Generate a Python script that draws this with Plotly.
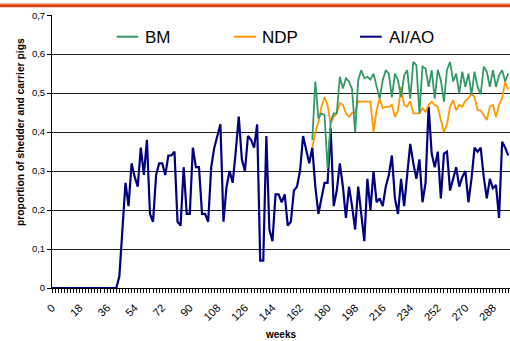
import plotly.graph_objects as go

# ---------------- data ----------------
weeks_ai = list(range(0, 300, 2))
ai_ao = [0, 0, 0, 0, 0, 0, 0, 0, 0, 0, 0, 0, 0, 0, 0, 0, 0, 0, 0, 0, 0, 0,
         0.03, 0.16, 0.27, 0.21, 0.32, 0.285, 0.26, 0.36, 0.29, 0.38,
         0.19, 0.17, 0.29, 0.32, 0.32, 0.29, 0.34, 0.34, 0.35, 0.17,
         0.16, 0.31, 0.19, 0.19, 0.36, 0.31, 0.31, 0.19, 0.19, 0.17,
         0.31, 0.36, 0.39, 0.42, 0.17, 0.26, 0.30, 0.27, 0.35, 0.44,
         0.33, 0.30, 0.39, 0.38, 0.36, 0.42, 0.07, 0.07, 0.39, 0.15,
         0.12, 0.24, 0.24, 0.22, 0.24, 0.16, 0.17, 0.25, 0.26, 0.30,
         0.39, 0.35, 0.32, 0.36, 0.26, 0.19, 0.23, 0.27, 0.27, 0.41,
         0.21, 0.25, 0.32, 0.26, 0.18, 0.26, 0.21, 0.15, 0.26, 0.19,
         0.12, 0.28, 0.20, 0.30, 0.22, 0.23, 0.21, 0.26, 0.29, 0.34,
         0.23, 0.19, 0.28, 0.21, 0.29, 0.37, 0.32, 0.28, 0.33, 0.22,
         0.27, 0.465, 0.345, 0.31, 0.35, 0.23, 0.345, 0.35, 0.25, 0.28,
         0.31, 0.26, 0.285, 0.30, 0.22, 0.28, 0.36, 0.35, 0.36, 0.285,
         0.23, 0.28, 0.256, 0.264, 0.18, 0.375, 0.36, 0.34]

weeks_bm_ndp = list(range(170, 300, 2))
bm = [0.38,
      0.53, 0.435, 0.448, 0.444, 0.307, 0.426, 0.448, 0.448, 0.542, 0.512,
      0.538, 0.53, 0.51, 0.40, 0.533, 0.559, 0.538,
      0.542, 0.535, 0.55, 0.516, 0.486, 0.533, 0.559, 0.55, 0.49, 0.55,
      0.533, 0.49, 0.545, 0.559, 0.486, 0.58, 0.572, 0.448, 0.568, 0.563,
      0.516, 0.559, 0.486, 0.56, 0.533,
      0.478, 0.56, 0.58, 0.53, 0.55, 0.499, 0.555, 0.516, 0.55, 0.495,
      0.555, 0.516, 0.497, 0.568, 0.555, 0.516, 0.559, 0.516, 0.546, 0.559,
      0.53, 0.55]
ndp = [0.36, 0.40, 0.426, 0.465, 0.49, 0.469, 0.422, 0.439, 0.448, 0.474,
       0.47, 0.448, 0.439, 0.45, 0.45, 0.479,
       0.478, 0.478, 0.478, 0.478, 0.40, 0.456, 0.486, 0.461, 0.465, 0.465,
       0.47, 0.439, 0.456, 0.516, 0.47, 0.465, 0.48, 0.448, 0.448, 0.448,
       0.461, 0.452, 0.47, 0.478, 0.47, 0.465,
       0.431, 0.40, 0.42, 0.465, 0.482, 0.456, 0.47, 0.465, 0.48, 0.487,
       0.499, 0.49, 0.456, 0.456, 0.444, 0.431, 0.465, 0.47, 0.439, 0.47,
       0.487, 0.529, 0.51]

x_tick_vals = list(range(0, 289, 18))
x_tick_text = [str(v) for v in x_tick_vals]
y_tick_vals = [0, 0.1, 0.2, 0.3, 0.4, 0.5, 0.6, 0.7]
y_tick_text = ["0", "0,1", "0,2", "0,3", "0,4", "0,5", "0,6", "0,7"]

series_names = ["BM", "NDP", "AI/AO"]
series_colors = ["#339966", "#FF9900", "#000080"]

FONT = "Arial, 'Liberation Sans', sans-serif"

# ---------------- figure ----------------
fig = go.Figure()
fig.add_trace(go.Scatter(x=weeks_ai, y=ai_ao, mode="lines", name=series_names[2],
                         line=dict(color=series_colors[2], width=2.2), showlegend=False))
fig.add_trace(go.Scatter(x=weeks_bm_ndp, y=ndp, mode="lines", name=series_names[1],
                         line=dict(color=series_colors[1], width=1.8), showlegend=False))
fig.add_trace(go.Scatter(x=weeks_bm_ndp, y=bm, mode="lines", name=series_names[0],
                         line=dict(color=series_colors[0], width=1.8), showlegend=False))

W, H = 510, 341
L, R, T, B = 52, 0, 15, 53
pw, ph = W - L - R, H - T - B

def px_x(x):
    return (x - L) / pw

def px_y(y):
    return (H - B - y) / ph

shapes = []
annotations = []
# decorative top rule of the page
shapes.append(dict(type="line", xref="paper", yref="paper", x0=px_x(0), x1=px_x(W),
                   y0=px_y(3.6), y1=px_y(3.6), line=dict(color="#EDA88E", width=1)))
shapes.append(dict(type="line", xref="paper", yref="paper", x0=px_x(0), x1=px_x(W),
                   y0=px_y(5.8), y1=px_y(5.8), line=dict(color="#D4430F", width=3)))

# legend (manual, to match the original layout)
legend_items = [(116.7, 138.3, 143), (234, 256, 260), (360, 381.7, 386.7)]
for (x0, x1, tx), name, col in zip(legend_items, series_names, series_colors):
    shapes.append(dict(type="line", xref="paper", yref="paper", x0=px_x(x0), x1=px_x(x1),
                       y0=px_y(36.7), y1=px_y(36.7), line=dict(color=col, width=2)))
    annotations.append(dict(text=name, xref="paper", yref="paper", x=px_x(tx), y=px_y(37.5),
                            xanchor="left", yanchor="middle", showarrow=False,
                            font=dict(family=FONT, size=17, color="#000000")))

# axis titles
annotations.append(dict(text="<b>proportion of shedder and carrier pigs</b>", xref="paper", yref="paper",
                        x=px_x(20), y=px_y(132), textangle=-90, showarrow=False,
                        xanchor="center", yanchor="middle",
                        font=dict(family=FONT, size=10.3, color="#000000")))
annotations.append(dict(text="<b>weeks</b>", xref="paper", yref="paper",
                        x=px_x(280), y=px_y(334), showarrow=False,
                        xanchor="center", yanchor="middle",
                        font=dict(family=FONT, size=10, color="#000000")))

fig.update_layout(
    width=W, height=H,
    margin=dict(l=L, r=R, t=T, b=B, pad=0),
    paper_bgcolor="white", plot_bgcolor="white",
    shapes=shapes, annotations=annotations,
    showlegend=False,
    font=dict(family=FONT, color="#000000"),
)
fig.update_xaxes(
    range=[0, pw / 1.531], tickmode="array", tickvals=x_tick_vals, ticktext=x_tick_text,
    tickangle=-45, tickfont=dict(family=FONT, size=11, color="#000000"),
    ticklabelstandoff=4,
    showline=True, linecolor="#000000", linewidth=1,
    ticks="outside", ticklen=4, tickcolor="#000000", tickwidth=1,
    minor=dict(dtick=2, tick0=0, ticks="outside", ticklen=4, tickcolor="#000000", showgrid=False),
    showgrid=False, zeroline=False, automargin=False,
)
fig.update_yaxes(
    range=[0, 0.7005], tickmode="array", tickvals=y_tick_vals, ticktext=y_tick_text,
    tickfont=dict(family=FONT, size=9.5, color="#000000"),
    showline=True, linecolor="#000000", linewidth=1,
    ticks="outside", ticklen=4, tickcolor="#000000", tickwidth=1,
    showgrid=True, gridcolor="#202020", gridwidth=1, zeroline=False, automargin=False,
)

fig.write_html("out.html", config={"displayModeBar": False})

# remove the browser's default page margin so the figure sits at the top-left corner
with open("out.html", "r", encoding="utf-8") as f:
    html = f.read()
html = html.replace("<head>", "<head><style>html,body{margin:0;padding:0;overflow:hidden;}</style>", 1)
with open("out.html", "w", encoding="utf-8") as f:
    f.write(html)
